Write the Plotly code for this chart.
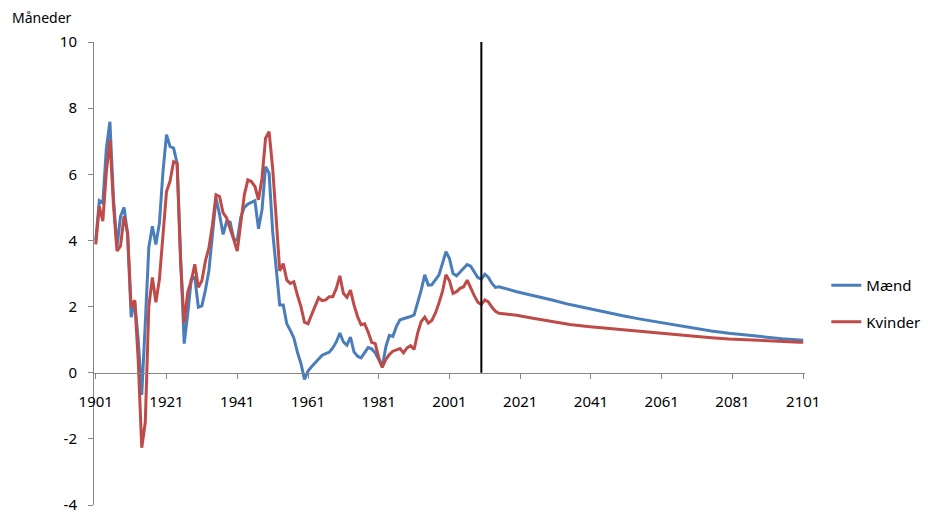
import plotly.graph_objects as go

# ---- data ----
years_hist = list(range(1901, 2016))
years_proj = [2020, 2025, 2030, 2035, 2040, 2045, 2050, 2055, 2060, 2065,
              2070, 2075, 2080, 2085, 2090, 2095, 2100, 2101]

maend_hist = [
    4.0, 5.2, 5.13, 6.79, 7.59, 5.28, 3.8, 4.73, 5.0, 4.18,            # 1901-1910
    1.68, 2.18, 1.0, -0.67, 1.5, 3.8, 4.43, 3.88, 4.53, 6.08,          # 1911-1920
    7.2, 6.84, 6.79, 6.33, 3.48, 0.88, 1.78, 2.83, 2.88, 1.98,         # 1921-1930
    2.02, 2.5, 3.1, 4.2, 5.28, 4.78, 4.18, 4.58, 4.55, 4.05,           # 1931-1940
    4.0, 4.7, 5.0, 5.1, 5.15, 5.2, 4.35, 4.93, 6.23, 6.03,             # 1941-1950
    4.28, 3.1, 2.05, 2.05, 1.48, 1.28, 1.05, 0.62, 0.28, -0.2,         # 1951-1960
    0.05, 0.18, 0.3, 0.43, 0.53, 0.58, 0.62, 0.75, 0.93, 1.2,          # 1961-1970
    0.93, 0.83, 1.08, 0.63, 0.5, 0.45, 0.62, 0.76, 0.72, 0.6,          # 1971-1980
    0.4, 0.18, 0.78, 1.13, 1.1, 1.4, 1.6, 1.63, 1.66, 1.7,             # 1981-1990
    1.75, 2.1, 2.5, 2.96, 2.65, 2.66, 2.8, 2.95, 3.3, 3.66,            # 1991-2000
    3.45, 3.0, 2.93, 3.05, 3.18, 3.27, 3.22, 3.05, 2.88, 2.83,         # 2001-2010
    2.98, 2.88, 2.7, 2.58, 2.6,                                        # 2011-2015
]
maend_proj = [2.45, 2.33, 2.2, 2.06, 1.94, 1.82, 1.72, 1.62, 1.53, 1.44,
              1.34, 1.26, 1.19, 1.13, 1.08, 1.03, 0.99, 0.98]

kvinder_hist = [
    3.88, 5.03, 4.58, 6.09, 7.04, 5.08, 3.68, 3.83, 4.73, 4.23,        # 1901-1910
    1.98, 2.19, 0.38, -2.27, -1.5, 2.0, 2.88, 2.13, 2.83, 4.2,         # 1911-1920
    5.48, 5.79, 6.38, 6.33, 3.3, 1.5, 2.43, 2.78, 3.28, 2.58,          # 1921-1930
    2.78, 3.38, 3.78, 4.48, 5.38, 5.33, 4.83, 4.68, 4.38, 4.03,        # 1931-1940
    3.68, 4.63, 5.38, 5.83, 5.78, 5.63, 5.23, 5.88, 7.09, 7.29,        # 1941-1950
    6.19, 4.68, 3.08, 3.3, 2.8, 2.7, 2.75, 2.35, 2.0, 1.53,            # 1951-1960
    1.48, 1.75, 2.0, 2.27, 2.18, 2.2, 2.3, 2.3, 2.55, 2.93,            # 1961-1970
    2.4, 2.28, 2.5, 2.05, 1.7, 1.45, 1.48, 1.23, 0.92, 0.88,           # 1971-1980
    0.45, 0.16, 0.4, 0.55, 0.65, 0.7, 0.73, 0.6, 0.75, 0.82,           # 1981-1990
    0.7, 1.2, 1.55, 1.68, 1.5, 1.58, 1.8, 2.1, 2.45, 2.96,             # 1991-2000
    2.78, 2.4, 2.45, 2.55, 2.6, 2.8, 2.55, 2.33, 2.13, 2.06,           # 2001-2010
    2.2, 2.14, 1.98, 1.86, 1.8,                                        # 2011-2015
]
kvinder_proj = [1.74, 1.64, 1.55, 1.46, 1.4, 1.35, 1.3, 1.25, 1.19, 1.14,
                1.1, 1.06, 1.02, 0.99, 0.96, 0.94, 0.92, 0.92]

x_ticks = [1901, 1921, 1941, 1961, 1981, 2001, 2021, 2041, 2061, 2081, 2101]
y_ticks = [-4, -2, 0, 2, 4, 6, 8, 10]
y_tick_labels = ["-4", "-2", "0", "2", "4", "6", "8", "10"]
marker_year = 2010
y_title = "Måneder"
series_names = ["Mænd", "Kvinder"]

years = years_hist + years_proj
maend = maend_hist + maend_proj
kvinder = kvinder_hist + kvinder_proj

FONT = "Noto Sans, Open Sans, sans-serif"
AX = "#868686"

fig = go.Figure()
fig.add_trace(go.Scatter(x=years, y=maend, mode="lines", name=series_names[0],
                         line=dict(color="#4A7EBB", width=3), legendgroup="a"))
fig.add_trace(go.Scatter(x=years, y=kvinder, mode="lines", name=series_names[1],
                         line=dict(color="#BE4B48", width=3), legendgroup="b"))

fig.add_shape(type="line", xref="x", yref="y", x0=marker_year, x1=marker_year,
              y0=0, y1=10, line=dict(color="black", width=2))

fig.update_layout(
    width=930, height=515,
    margin=dict(l=94, r=125, t=42, b=10, autoexpand=False),
    paper_bgcolor="white", plot_bgcolor="white",
    font=dict(family=FONT, size=14, color="black"),
    showlegend=True,
    legend=dict(x=1.03, y=0.435, xanchor="left", yanchor="middle",
                tracegroupgap=14, font=dict(size=15), bgcolor="rgba(0,0,0,0)"),
    xaxis=dict(range=[1900.5, 2101.5], tickvals=x_ticks, ticktext=[str(t) for t in x_ticks],
               showgrid=False, zeroline=False, showline=True, linecolor=AX, linewidth=1,
               ticks="outside", ticklen=5, tickcolor=AX, anchor="free", automargin=False,
               position=4 / 14, ticklabelstandoff=10, tickfont=dict(size=15)),
    yaxis=dict(range=[-4, 10], tickvals=y_ticks, ticktext=y_tick_labels,
               showgrid=False, zeroline=False, ticklabeloverflow="allow", automargin=False,
               showline=True, linecolor=AX, linewidth=1, ticks="outside", ticklen=5,
               tickcolor=AX, ticklabelstandoff=8, tickfont=dict(size=15)),
    annotations=[dict(text=y_title, xref="paper", yref="paper", x=-0.118, y=1.052,
                      xanchor="left", yanchor="middle", showarrow=False,
                      font=dict(size=14))],
)

fig.write_html("out.html", config={"displayModeBar": False},
               post_script="document.body.style.margin='0';document.body.style.padding='0';")
